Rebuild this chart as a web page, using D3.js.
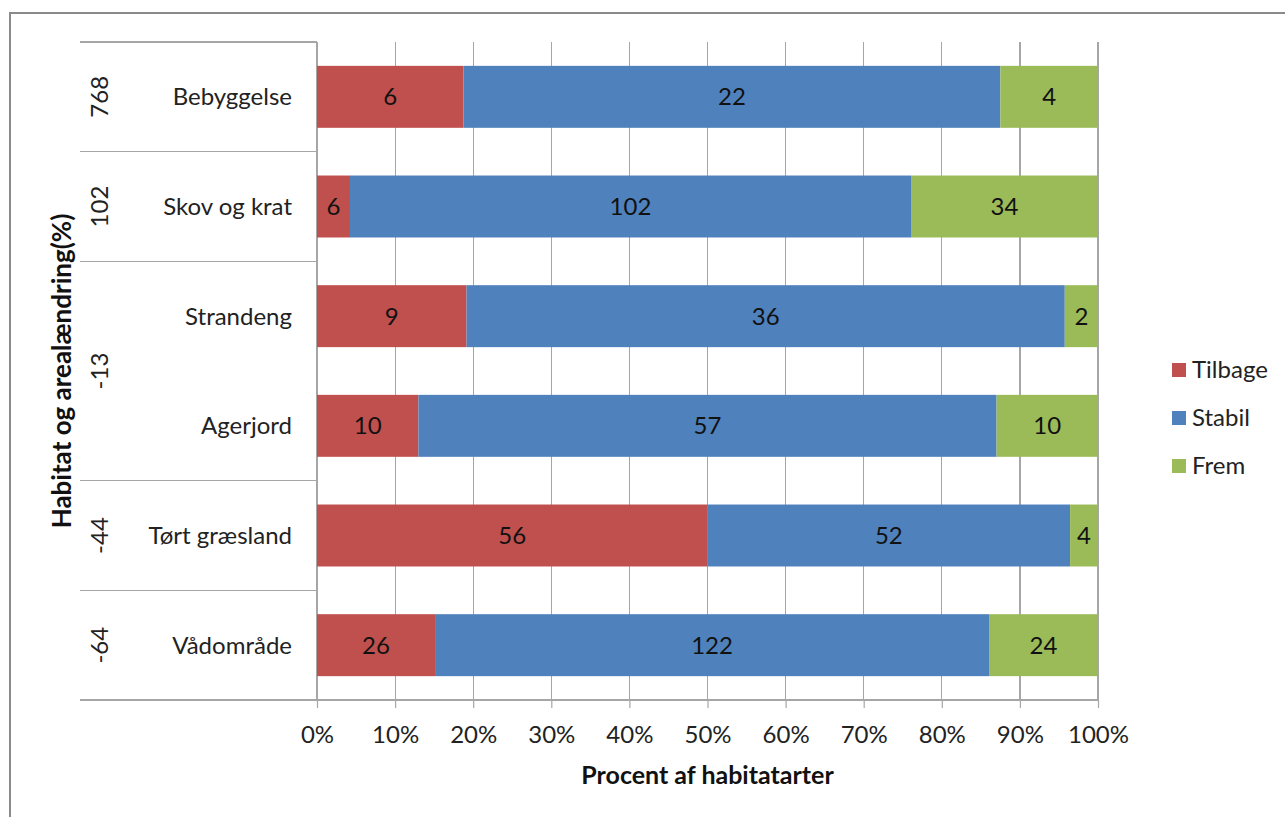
<!DOCTYPE html>
<html>
<head>
<meta charset="utf-8">
<script src="https://cdn.jsdelivr.net/npm/d3@7"></script>
<style>
  html, body { margin: 0; padding: 0; background: #fff; }
  svg { display: block; font-family: Lato, "Open Sans", sans-serif; }
</style>
</head>
<body>
<svg id="chart" width="1285" height="817"></svg>
<script>
// Habitat categories (top to bottom) and their species counts per trend
const categories = ["Bebyggelse", "Skov og krat", "Strandeng", "Agerjord", "Tørt græsland", "Vådområde"];
const tilbage = [6, 6, 9, 10, 56, 26];
const stabil = [22, 102, 36, 57, 52, 122];
const frem = [4, 34, 2, 10, 4, 24];

// Area change (%) groups spanning consecutive categories
const groupLabels = ["768", "102", "-13", "-44", "-64"];
const groupSizes = [1, 1, 2, 1, 1];

const seriesNames = ["Tilbage", "Stabil", "Frem"];
const seriesColors = ["#C0504D", "#4F81BD", "#9BBB59"];
const xTicks = [0, 0.1, 0.2, 0.3, 0.4, 0.5, 0.6, 0.7, 0.8, 0.9, 1];

const rows = categories.map((c, i) => ({ cat: c, Tilbage: tilbage[i], Stabil: stabil[i], Frem: frem[i] }));
const stacked = d3.stack().keys(seriesNames).offset(d3.stackOffsetExpand)(rows);

const svg = d3.select("#chart");
const plotLeft = 317, plotRight = 1098, plotTop = 42, plotBottom = 700;
const labelSize = 24;

const x = d3.scaleLinear().domain([0, 1]).range([plotLeft, plotRight]);
const y = d3.scaleBand().domain(categories).range([plotTop, plotBottom]).paddingInner(0.435).paddingOuter(0.2175);
const color = d3.scaleOrdinal().domain(seriesNames).range(seriesColors);
const step = y.step();

// Outer chart frame
svg.append("path")
  .attr("d", "M10,817 L10,13 L1285,13")
  .attr("fill", "none").attr("stroke", "#8a8a8a").attr("stroke-width", 2);

// Vertical gridlines
svg.append("g").selectAll("line").data(xTicks).join("line")
  .attr("x1", d => x(d)).attr("x2", d => x(d))
  .attr("y1", plotTop).attr("y2", plotBottom)
  .attr("stroke", "#a6a6a6").attr("stroke-width", 1.2)
  .attr("shape-rendering", "crispEdges");

// Stacked bars
const layer = svg.append("g").selectAll("g").data(stacked).join("g")
  .attr("fill", d => color(d.key));
layer.selectAll("rect").data(d => d.map(v => ({ key: d.key, v }))).join("rect")
  .attr("x", d => x(d.v[0]))
  .attr("width", d => x(d.v[1]) - x(d.v[0]))
  .attr("y", d => y(d.v.data.cat))
  .attr("height", y.bandwidth());

// Count labels inside each segment
layer.selectAll("text").data(d => d.map(v => ({ key: d.key, v }))).join("text")
  .attr("x", d => (x(d.v[0]) + x(d.v[1])) / 2)
  .attr("y", d => y(d.v.data.cat) + y.bandwidth() / 2)
  .attr("dy", "0.35em")
  .attr("text-anchor", "middle")
  .attr("fill", "#111")
  .attr("font-size", labelSize)
  .text(d => d.v.data[d.key]);

// Bottom axis with ticks below the baseline
const xAxis = d3.axisBottom(x).tickValues(xTicks).tickFormat(d3.format(".0%")).tickSize(8).tickPadding(18);
const axisG = svg.append("g").attr("transform", `translate(0,${plotBottom})`).call(xAxis);
axisG.select(".domain").remove();
axisG.selectAll(".tick line").attr("stroke", "#a6a6a6").attr("stroke-width", 1.2);
axisG.selectAll(".tick text").attr("font-size", labelSize).attr("fill", "#222")
  .attr("font-family", "Lato, 'Open Sans', sans-serif");

// Multi-level category axis: separator lines
const boundaries = [0];
groupSizes.reduce((acc, n) => { boundaries.push(acc + n); return acc + n; }, 0);
svg.append("g").selectAll("line").data(boundaries).join("line")
  .attr("x1", 80).attr("x2", d => d === categories.length ? plotRight : plotLeft)
  .attr("y1", d => plotTop + d * step).attr("y2", d => plotTop + d * step)
  .attr("stroke", "#a6a6a6").attr("stroke-width", 1.2)
  .attr("shape-rendering", "crispEdges");

// Category labels
svg.append("g").selectAll("text").data(categories).join("text")
  .attr("x", 292)
  .attr("y", d => y(d) + y.bandwidth() / 2)
  .attr("dy", "0.35em")
  .attr("text-anchor", "end")
  .attr("font-size", labelSize).attr("fill", "#222")
  .text(d => d);

// Group labels (area change), rotated
svg.append("g").selectAll("text").data(groupLabels).join("text")
  .attr("transform", (d, i) => {
    const cy = plotTop + (boundaries[i] + boundaries[i + 1]) / 2 * step;
    return `translate(100,${cy}) rotate(-90)`;
  })
  .attr("dy", "0.35em")
  .attr("text-anchor", "middle")
  .attr("font-size", labelSize).attr("fill", "#222")
  .text(d => d);

// Axis titles
svg.append("text")
  .attr("transform", `translate(62,${(plotTop + plotBottom) / 2}) rotate(-90)`)
  .attr("dy", "0.35em")
  .attr("text-anchor", "middle")
  .attr("font-size", 26).attr("font-weight", "bold").attr("fill", "#111")
  .text("Habitat og arealændring(%)");

svg.append("text")
  .attr("x", (plotLeft + plotRight) / 2).attr("y", 775)
  .attr("dy", "0.35em")
  .attr("text-anchor", "middle")
  .attr("font-size", 25).attr("font-weight", "bold").attr("fill", "#111")
  .text("Procent af habitatarter");

// Legend
const legend = svg.append("g").selectAll("g").data(seriesNames).join("g")
  .attr("transform", (d, i) => `translate(1172,${370 + i * 48})`);
legend.append("rect")
  .attr("x", 0).attr("y", -7).attr("width", 14).attr("height", 14)
  .attr("fill", d => color(d));
legend.append("text")
  .attr("x", 20).attr("dy", "0.35em")
  .attr("font-size", labelSize).attr("fill", "#222")
  .text(d => d);
</script>
</body>
</html>
